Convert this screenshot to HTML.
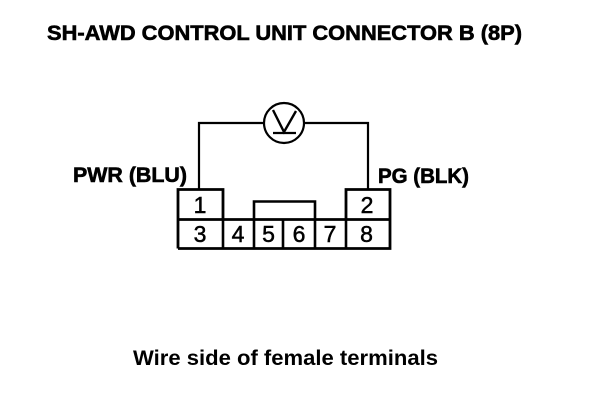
<!DOCTYPE html>
<html><head><meta charset="utf-8"><style>
html,body{margin:0;padding:0;background:#fff;width:608px;height:400px;overflow:hidden}
svg{display:block}
text{font-family:"Liberation Sans",sans-serif;fill:#000}
.b{font-weight:bold;stroke:#000;stroke-width:.6}
.n{font-size:23px;text-anchor:middle;stroke:#000;stroke-width:.5}
</style></head><body>
<svg width="608" height="400" viewBox="0 0 608 400" xmlns="http://www.w3.org/2000/svg">
<rect width="608" height="400" fill="#fff"/>
<text class="b" x="47" y="40" font-size="21" textLength="475" lengthAdjust="spacingAndGlyphs">SH-AWD CONTROL UNIT CONNECTOR B (8P)</text>
<text class="b" x="73" y="182" font-size="21" textLength="114" lengthAdjust="spacingAndGlyphs">PWR (BLU)</text>
<text class="b" x="378" y="183" font-size="21" textLength="91" lengthAdjust="spacingAndGlyphs">PG (BLK)</text>
<text x="133" y="365" font-size="21" font-weight="bold" textLength="305" lengthAdjust="spacingAndGlyphs">Wire side of female terminals</text>
<g fill="none" stroke="#000">
<path d="M199 189V123H264M304 123H368V189" stroke-width="2.2"/>
<circle cx="284" cy="123" r="20" stroke-width="2.2"/>
<path d="M273 110L284 132L296 111" stroke-width="2.4"/>
<path d="M273 133H296" stroke-width="2.2"/>
<path d="M178 248.5V189.5H223V219.5M178 219.5H390M346 219.5V189.5H390V248.5H178" stroke-width="2.8"/>
<path d="M223 219V248M254 219V201.5H315V219M254 219V248M283 219V248M315 219V248M346 219V248" stroke-width="2.6"/>
</g>
<text class="n" x="200" y="213">1</text>
<text class="n" x="367" y="213">2</text>
<text class="n" x="200" y="242">3</text>
<text class="n" x="238" y="242">4</text>
<text class="n" x="268.500" y="242">5</text>
<text class="n" x="299" y="242">6</text>
<text class="n" x="330" y="242">7</text>
<text class="n" x="366.500" y="242">8</text>
</svg>
</body></html>
